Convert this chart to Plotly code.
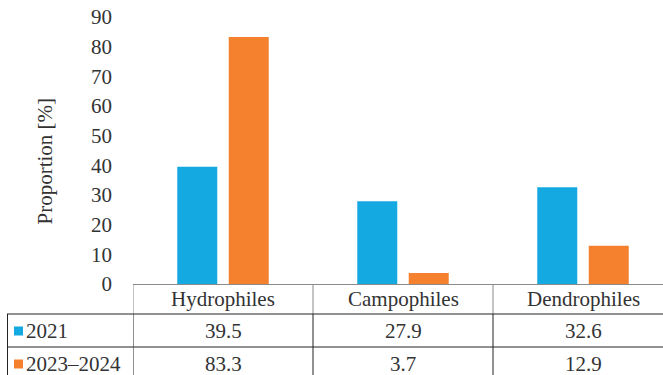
import plotly.graph_objects as go

# Proportion of ecological groups per survey period
categories = ["Hydrophiles", "Campophiles", "Dendrophiles"]
series_names = ["2021", "2023–2024"]
values_2021 = [39.5, 27.9, 32.6]
values_2023_2024 = [83.3, 3.7, 12.9]
y_ticks = [0, 10, 20, 30, 40, 50, 60, 70, 80, 90]

colors = ["#15A9E1", "#F5812F"]
FONT = "'Liberation Serif', 'Times New Roman', Times, serif"
TEXT = "#333333"
FS = 21

W, H = 663, 375
ML, MT, MB = 133, 17, 91
PW = W - ML
PH = H - MT - MB
CAT_W = 180.0  # pixel width of each category column

x = list(range(len(categories)))
x_max = -0.5 + PW / CAT_W

fig = go.Figure()
for name, vals, col in zip(series_names, [values_2021, values_2023_2024], colors):
    fig.add_trace(go.Bar(x=x, y=vals, name=name, marker=dict(color=col, line=dict(width=0)),
                         showlegend=False))


def py(pix):
    """Pixel row -> paper y."""
    return (H - MB - pix) / PH


def px(pix):
    """Pixel column -> paper x."""
    return (pix - ML) / PW


shapes = []
gray = dict(color="#8a8a8a", width=1)
dark = dict(color="#222222", width=1)

row_top = H - MB          # 284
row1 = row_top + 30       # 314
row2 = row1 + 33          # 347
bottom = H + 5

# vertical separators in the header row (gray) and the data rows (dark)
bounds = [-0.5] + [i + 0.5 for i in range(len(categories) - 1)]
for b in bounds:
    shapes.append(dict(type="line", xref="x", yref="paper", x0=b, x1=b,
                       y0=py(row_top), y1=py(row1), line=gray))
    shapes.append(dict(type="line", xref="x", yref="paper", x0=b, x1=b,
                       y0=py(row1), y1=py(bottom), line=dark))
# left border of series label column
shapes.append(dict(type="line", xref="paper", yref="paper", x0=px(7.5), x1=px(7.5),
                   y0=py(row1), y1=py(bottom), line=dark))
# horizontal row lines
for r in (row1, row2):
    shapes.append(dict(type="line", xref="paper", yref="paper", x0=px(7), x1=1.0,
                       y0=py(r), y1=py(r), line=dark))

annotations = []
# category header
for xi, c in zip(x, categories):
    annotations.append(dict(x=xi, y=py((row_top + row1) / 2), xref="x", yref="paper",
                            text=c, showarrow=False, xanchor="center", yanchor="middle",
                            font=dict(family=FONT, size=FS, color=TEXT)))

row_centers = [(row1 + row2) / 2, (row2 + row2 + 33) / 2]
for name, vals, col, rc in zip(series_names, [values_2021, values_2023_2024], colors, row_centers):
    # legend key
    shapes.append(dict(type="rect", xref="paper", yref="paper", x0=px(14), x1=px(23),
                       y0=py(rc - 4), y1=py(rc + 5), fillcolor=col, line=dict(width=0)))
    annotations.append(dict(x=px(24), y=py(rc + 0.5), xref="paper", yref="paper",
                            text=name, showarrow=False, xanchor="left", yanchor="middle",
                            font=dict(family=FONT, size=FS, color=TEXT)))
    for xi, v in zip(x, vals):
        annotations.append(dict(x=xi, y=py(rc + 0.5), xref="x", yref="paper",
                                text=f"{v:.1f}", showarrow=False, xanchor="center",
                                yanchor="middle",
                                font=dict(family=FONT, size=FS, color=TEXT)))

# y-axis title
annotations.append(dict(x=px(44), y=py(161.5), xref="paper", yref="paper",
                        text="Proportion [%]", textangle=-90, showarrow=False,
                        xanchor="center", yanchor="middle",
                        font=dict(family=FONT, size=FS, color=TEXT)))

fig.update_layout(
    width=W, height=H,
    margin=dict(l=ML, r=0, t=MT, b=MB, pad=0),
    paper_bgcolor="white", plot_bgcolor="white",
    font=dict(family=FONT, size=FS, color=TEXT),
    barmode="group", bargap=0.428, bargroupgap=0.223,
    shapes=shapes, annotations=annotations,
    xaxis=dict(range=[-0.5, x_max], showticklabels=False, ticks="", showgrid=False,
               zeroline=False, showline=True, linecolor="#8a8a8a", linewidth=1,
               fixedrange=True),
    yaxis=dict(range=[0, 90], tickvals=y_ticks, ticks="", showgrid=False, zeroline=False,
               showline=False, ticklabelstandoff=20,
               tickfont=dict(family=FONT, size=FS, color=TEXT), fixedrange=True),
)

fig.write_html("out.html", config={"displayModeBar": False})
